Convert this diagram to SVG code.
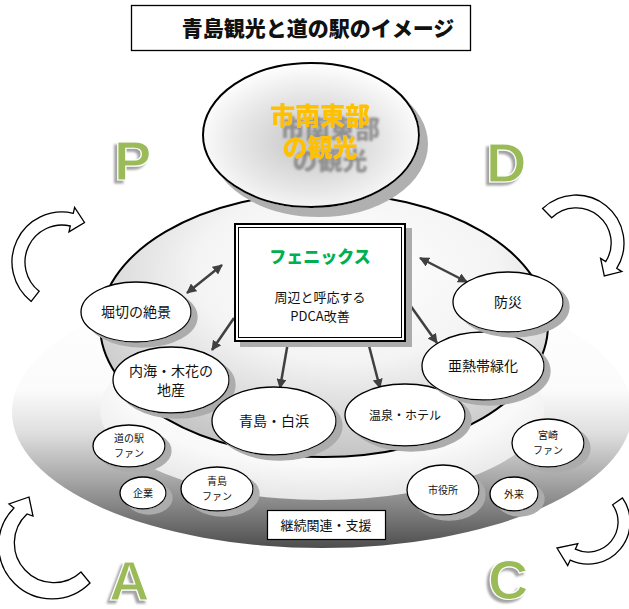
<svg xmlns="http://www.w3.org/2000/svg" width="629" height="609" viewBox="0 0 629 609">
<defs>
<linearGradient id="gOuter" x1="0" y1="0" x2="0" y2="1">
<stop offset="0" stop-color="#ffffff"/>
<stop offset="0.42" stop-color="#fbfbfb"/>
<stop offset="0.58" stop-color="#dedede"/>
<stop offset="0.75" stop-color="#a6a6a6"/>
<stop offset="0.9" stop-color="#727272"/>
<stop offset="1" stop-color="#4e4e4e"/>
</linearGradient>
<radialGradient id="gInner" cx="0.5" cy="0.35" r="0.65">
<stop offset="0" stop-color="#ffffff"/>
<stop offset="0.7" stop-color="#f9f9f9"/>
<stop offset="1" stop-color="#e6e6e6"/>
</radialGradient>
<radialGradient id="gMain" cx="0.55" cy="0.3" r="0.75">
<stop offset="0" stop-color="#ffffff"/>
<stop offset="0.45" stop-color="#f4f4f4"/>
<stop offset="1" stop-color="#bdbdbd"/>
</radialGradient>
<radialGradient id="gTop" cx="0.5" cy="0.55" r="0.55">
<stop offset="0" stop-color="#c4c4c4"/>
<stop offset="0.6" stop-color="#e6e6e6"/>
<stop offset="1" stop-color="#ffffff"/>
</radialGradient>
<filter id="sh" x="-20%" y="-20%" width="150%" height="150%">
<feOffset in="SourceAlpha" dx="6" dy="5" result="o"/>
<feFlood flood-color="#acacac"/>
<feComposite in2="o" operator="in" result="s"/>
<feMerge><feMergeNode in="s"/><feMergeNode in="SourceGraphic"/></feMerge>
</filter>
<filter id="shTop" x="-20%" y="-20%" width="150%" height="150%">
<feOffset in="SourceAlpha" dx="8" dy="9" result="o"/>
<feFlood flood-color="#b0b0b0"/>
<feComposite in2="o" operator="in" result="s"/>
<feMerge><feMergeNode in="s"/><feMergeNode in="SourceGraphic"/></feMerge>
</filter>
<filter id="txtSh" x="-20%" y="-30%" width="150%" height="180%">
<feOffset in="SourceAlpha" dx="10" dy="13" result="o"/>
<feGaussianBlur in="o" stdDeviation="1" result="b"/>
<feFlood flood-color="#7a7a7a" flood-opacity="0.75"/>
<feComposite in2="b" operator="in" result="s"/>
<feMerge><feMergeNode in="s"/><feMergeNode in="SourceGraphic"/></feMerge>
</filter>
<filter id="lSh" x="-40%" y="-30%" width="180%" height="160%">
<feOffset in="SourceAlpha" dx="-3" dy="3" result="o"/>
<feGaussianBlur in="o" stdDeviation="1.2" result="b"/>
<feFlood flood-color="#8c8c8c" flood-opacity="0.8"/>
<feComposite in2="b" operator="in" result="s"/>
<feMerge><feMergeNode in="s"/><feMergeNode in="SourceGraphic"/></feMerge>
</filter>
<marker id="ah" viewBox="0 0 10 10" refX="9" refY="5" markerWidth="4" markerHeight="4" orient="auto-start-reverse">
<path d="M0,0 L10,5 L0,10 Z" fill="#404040"/>
</marker>
<style>
.jp{font-family:"Noto Sans CJK JP","Noto Sans",sans-serif;fill:#111;text-anchor:middle}
.node{fill:#fff;stroke:#000;stroke-width:1.3}
.conn{stroke:#404040;stroke-width:2.5;fill:none;marker-end:url(#ah)}
.both{marker-start:url(#ah)}
.carrow{fill:#fff;stroke:#000;stroke-width:1.3}
.letter{font-family:"Liberation Sans","Open Sans",sans-serif;font-weight:700;font-size:56px;fill:#9bbb59;stroke:#fff;stroke-width:1.2}
</style>
</defs>
<rect width="629" height="609" fill="#fff"/>

<!-- background rings -->
<ellipse cx="322" cy="412" rx="310" ry="136" fill="url(#gOuter)"/>
<ellipse cx="322" cy="410" rx="222" ry="90" fill="url(#gInner)"/>

<!-- title -->
<g id="title">
<rect x="131.5" y="5.5" width="339" height="45" fill="#fff" stroke="#000" stroke-width="1.3"/>
<text x="318" y="36" class="jp" font-size="21" font-weight="900">青島観光と道の駅のイメージ</text>
</g>

<!-- PDCA letters -->
<g id="letterP"><text x="114" y="180" class="letter" filter="url(#lSh)">P</text></g>
<g id="letterD"><text x="486" y="182" class="letter" filter="url(#lSh)">D</text></g>
<g id="letterA"><text x="109" y="600" class="letter" filter="url(#lSh)">A</text></g>
<g id="letterC"><text x="488" y="599" class="letter" filter="url(#lSh)">C</text></g>

<!-- cycle arrows -->
<g id="cycleArrows">
<path class="carrow" d="M31.2,301.4 A50,50 0 0 1 73.3,213.3 L74.6,207.5 L84.5,222.5 L69.0,231.8 L70.3,226.0 A37,37 0 0 0 39.2,291.2 Z"/>
<path class="carrow" d="M542.6,208.5 A48,48 0 0 1 616.7,268.4 L621.8,271.6 L604.3,276.0 L600.6,258.4 L605.7,261.6 A35,35 0 0 0 551.7,217.8 Z"/>
<path class="carrow" d="M90,583 A52,52 0 0 1 14,508 L9,504 L29,497 L33,516 L27,514 A38,38 0 0 0 81,572 Z"/>
<path class="carrow" d="M622.4,497.9 A42,42 0 0 1 570.2,560.1 L567.7,565.5 L557,548 L577.8,543.7 L575.3,549.2 A30,30 0 0 0 612.6,504.8 Z"/>
</g>

<!-- main ellipse -->
<g id="mainArea">
<ellipse cx="324" cy="325" rx="224" ry="132" fill="url(#gMain)" stroke="#000" stroke-width="2"/>
</g>

<!-- top ellipse -->
<g id="nanbu">
<ellipse cx="311" cy="135" rx="108" ry="72" fill="url(#gTop)" stroke="#000" stroke-width="2" filter="url(#shTop)"/>
<g filter="url(#txtSh)">
<text x="320" y="125" class="jp" font-size="25" font-weight="900" style="fill:#ffc000">市南東部</text>
<text x="320" y="157" class="jp" font-size="25" font-weight="900" style="fill:#ffc000">の観光</text>
</g>
</g>

<!-- connectors -->
<g id="connectors">
<line class="conn both" x1="222" y1="265" x2="187" y2="293"/>
<line class="conn both" x1="420" y1="258" x2="467" y2="282"/>
<line class="conn" x1="234" y1="318" x2="212" y2="350"/>
<line class="conn" x1="288" y1="342" x2="280" y2="388"/>
<line class="conn" x1="368" y1="342" x2="380" y2="388"/>
<line class="conn" x1="405" y1="298" x2="437" y2="343"/>
</g>

<!-- phoenix box -->
<g id="phoenix">
<rect x="235" y="224" width="170" height="117" fill="#fff" stroke="#000" stroke-width="2" filter="url(#sh)"/>
<rect x="238.5" y="227.5" width="163" height="110" fill="none" stroke="#000" stroke-width="1"/>
<text x="320" y="263" class="jp" font-size="17" font-weight="900" style="fill:#00b050">フェニックス</text>
<text x="320" y="302" class="jp" font-size="13">周辺と呼応する</text>
<text x="320" y="321" class="jp" font-size="13">PDCA改善</text>
</g>

<!-- inner nodes -->
<g id="horikiri">
<ellipse class="node" cx="136" cy="312" rx="55" ry="30" filter="url(#sh)"/>
<text x="136" y="317" class="jp" font-size="14">堀切の絶景</text>
</g>
<g id="uchiumi">
<ellipse class="node" cx="171" cy="380" rx="58" ry="33" filter="url(#sh)"/>
<text x="171" y="376" class="jp" font-size="14">内海・木花の</text>
<text x="171" y="395" class="jp" font-size="14">地産</text>
</g>
<g id="aoshima">
<ellipse class="node" cx="274" cy="421" rx="62" ry="34" filter="url(#sh)"/>
<text x="274" y="426" class="jp" font-size="14">青島・白浜</text>
</g>
<g id="onsen">
<ellipse class="node" cx="405" cy="415" rx="60" ry="31" filter="url(#sh)"/>
<text x="405" y="420" class="jp" font-size="12">温泉・ホテル</text>
</g>
<g id="anettai">
<ellipse class="node" cx="483" cy="366" rx="61" ry="34" filter="url(#sh)"/>
<text x="483" y="371" class="jp" font-size="14">亜熱帯緑化</text>
</g>
<g id="bousai">
<ellipse class="node" cx="508" cy="302" rx="55" ry="30" filter="url(#sh)"/>
<text x="508" y="307" class="jp" font-size="14">防災</text>
</g>

<!-- outer ring nodes -->
<g id="michinoekiFan">
<ellipse class="node" cx="129" cy="446" rx="36" ry="21" filter="url(#sh)"/>
<text x="129" y="442" class="jp" font-size="10">道の駅</text>
<text x="129" y="457" class="jp" font-size="10">ファン</text>
</g>
<g id="kigyou">
<ellipse class="node" cx="143" cy="493" rx="23" ry="16" filter="url(#sh)"/>
<text x="143" y="497" class="jp" font-size="10">企業</text>
</g>
<g id="aoshimaFan">
<ellipse class="node" cx="217" cy="489" rx="36" ry="22" filter="url(#sh)"/>
<text x="217" y="485" class="jp" font-size="10">青島</text>
<text x="217" y="500" class="jp" font-size="10">ファン</text>
</g>
<g id="shiyakusho">
<ellipse class="node" cx="443" cy="490" rx="36" ry="25" filter="url(#sh)"/>
<text x="443" y="494" class="jp" font-size="10">市役所</text>
</g>
<g id="gairai">
<ellipse class="node" cx="514" cy="494" rx="24" ry="17" filter="url(#sh)"/>
<text x="514" y="498" class="jp" font-size="10">外来</text>
</g>
<g id="miyazakiFan">
<ellipse class="node" cx="548" cy="443" rx="36" ry="24" filter="url(#sh)"/>
<text x="548" y="439" class="jp" font-size="10">宮崎</text>
<text x="548" y="454" class="jp" font-size="10">ファン</text>
</g>
<g id="keizoku">
<rect x="267.5" y="510.5" width="118" height="29" fill="#fff" stroke="#000" stroke-width="1.2"/>
<text x="326" y="530" class="jp" font-size="13">継続関連・支援</text>
</g>
</svg>
